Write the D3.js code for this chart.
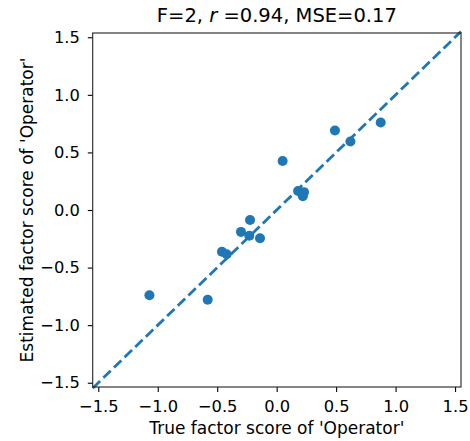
<!DOCTYPE html>
<html>
<head>
<meta charset="utf-8">
<script src="https://cdn.jsdelivr.net/npm/d3@7"></script>
<style>
  body { margin: 0; background: #fff; }
  svg { display: block; font-family: "DejaVu Sans", sans-serif; }
</style>
</head>
<body>
<svg id="chart"></svg>
<script>
// true vs estimated factor scores
var trueScore = [-1.07, -0.58, 0.05, 0.49, 0.62, 0.875, 0.18, 0.23, 0.22,
                 -0.224, -0.30, -0.23, -0.14, -0.46, -0.42];
var estScore  = [-0.74, -0.78, 0.425, 0.69, 0.595, 0.76, 0.165, 0.155, 0.12,
                 -0.087, -0.19, -0.224, -0.246, -0.363, -0.385];
var tickValues = [-1.5, -1.0, -0.5, 0.0, 0.5, 1.0, 1.5];
var limits = [-1.547, 1.55];
var ylimits = [-1.537, 1.537];

var width = 470, height = 441;
var margin = {top: 33, right: 9, bottom: 54, left: 92.7};

var svg = d3.select("#chart")
  .attr("width", width)
  .attr("height", height);

var x = d3.scaleLinear()
  .domain(limits)
  .range([margin.left, width - margin.right]);

var y = d3.scaleLinear()
  .domain(ylimits)
  .range([height - margin.bottom, margin.top]);

var fmt = d3.format(".1f");

var xAxis = g => g
  .attr("transform", `translate(0,${height - margin.bottom})`)
  .call(d3.axisBottom(x).tickValues(tickValues).tickFormat(fmt).tickSize(4.9).tickPadding(8.5))
  .call(g => g.select(".domain").remove());

var yAxis = g => g
  .attr("transform", `translate(${margin.left},0)`)
  .call(d3.axisLeft(y).tickValues(tickValues).tickFormat(fmt).tickSize(4.9).tickPadding(8))
  .call(g => g.select(".domain").remove());

svg.append("g").call(xAxis);
svg.append("g").call(yAxis);

svg.selectAll(".tick text")
  .attr("font-size", 16.3)
  .attr("font-family", "DejaVu Sans")
  .attr("fill", "#000");
svg.selectAll(".tick line")
  .attr("stroke", "#000")
  .attr("stroke-width", 1.1);

// identity line
svg.append("line")
  .attr("x1", x(limits[0])).attr("y1", y(limits[0]))
  .attr("x2", x(limits[1])).attr("y2", y(limits[1]))
  .attr("stroke", "#1f77b4")
  .attr("stroke-width", 2.8)
  .attr("stroke-dasharray", "10.3,4.5");

svg.append("g")
  .attr("fill", "#1f77b4")
  .selectAll("circle")
  .data(trueScore)
  .enter().append("circle")
  .attr("cx", d => x(d))
  .attr("cy", (d, i) => y(estScore[i]))
  .attr("r", 5);

// frame
svg.append("rect")
  .attr("x", margin.left)
  .attr("y", margin.top)
  .attr("width", width - margin.right - margin.left)
  .attr("height", height - margin.bottom - margin.top)
  .attr("fill", "none")
  .attr("stroke", "#222")
  .attr("stroke-width", 1.1);

var title = svg.append("text")
  .attr("x", (margin.left + width - margin.right) / 2)
  .attr("y", 22)
  .attr("text-anchor", "middle")
  .attr("font-size", 19.5);
title.append("tspan").text("F=2, ");
title.append("tspan").attr("font-style", "italic").text("r");
title.append("tspan").text(" =0.94, MSE=0.17");

svg.append("text")
  .attr("x", (margin.left + width - margin.right) / 2)
  .attr("y", 434)
  .attr("text-anchor", "middle")
  .attr("font-size", 17)
  .text("True factor score of 'Operator'");

svg.append("text")
  .attr("transform", `translate(33,${(margin.top + height - margin.bottom) / 2}) rotate(-90)`)
  .attr("text-anchor", "middle")
  .attr("font-size", 17)
  .text("Estimated factor score of 'Operator'");
</script>
</body>
</html>
